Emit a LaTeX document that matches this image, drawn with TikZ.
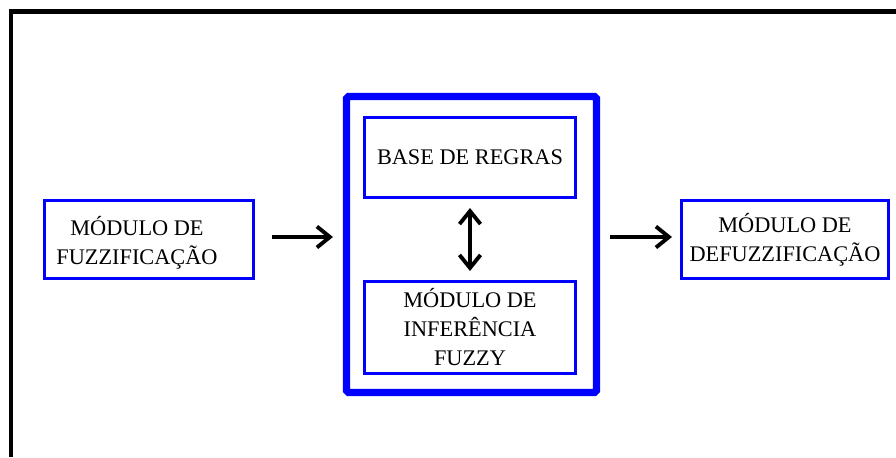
\documentclass[tikz,border=0pt]{standalone}
\usepackage{fontspec}
\setmainfont{Liberation Serif}
\usetikzlibrary{arrows.meta}
\tikzset{
	modbox/.style={draw=blue, line width=1.7pt, minimum width=4.18cm, minimum height=1.56cm, align=center, inner sep=1pt, font=\fontsize{12.7}{16.5}\selectfont},
	txt/.style={align=center, inner sep=0pt, font=\fontsize{12.7}{16.5}\selectfont},
	ponta/.tip={Straight Barb[length=0.26cm,width=0.42cm]},
	seta/.style={line width=2.2pt, -ponta},
}

\begin{document}
\begin{tikzpicture}
	\useasboundingbox (0,0) rectangle (17.92,9.14);
	% outer frame, cut by the page
	\draw[line width=2.3pt, line join=miter] (0.22,0) -- (0.22,8.91) -- (17.92,8.91);
	% the inference system
	\node[draw=blue, line width=4pt, rounded corners=1pt, minimum width=5cm, minimum height=5.92cm] (sist) at (9.43,4.25) {};
	\node[modbox, minimum width=4.22cm, minimum height=1.6cm] (base) at (9.40,5.99) {BASE DE REGRAS};
	\node[modbox, minimum width=4.22cm, minimum height=1.84cm] (infer) at (9.40,2.59) {MÓDULO DE\\INFERÊNCIA\\FUZZY};
	\draw[line width=2.2pt, ponta-ponta, shorten <=0.18cm, shorten >=0.18cm] (base.south) -- (infer.north);
	% input and output
	\node[modbox] (fuzz) at (2.98,4.35) {};
	\node[txt] (fuzztxt) at (2.74,4.28) {MÓDULO DE\\FUZZIFICAÇÃO};
	\node[modbox, minimum width=4.14cm] (defuzz) at (15.70,4.35) {MÓDULO DE\\DEFUZZIFICAÇÃO};
	\draw[seta, shorten <=0.34cm, shorten >=0.2cm] ([yshift=0.05cm]fuzz.east) -- ([yshift=0.05cm]fuzz.east -| sist.west);
	\draw[seta, shorten <=0.2cm, shorten >=0.16cm] ([yshift=0.05cm]sist.east |- defuzz.west) -- ([yshift=0.05cm]defuzz.west);
\end{tikzpicture}
\end{document}
